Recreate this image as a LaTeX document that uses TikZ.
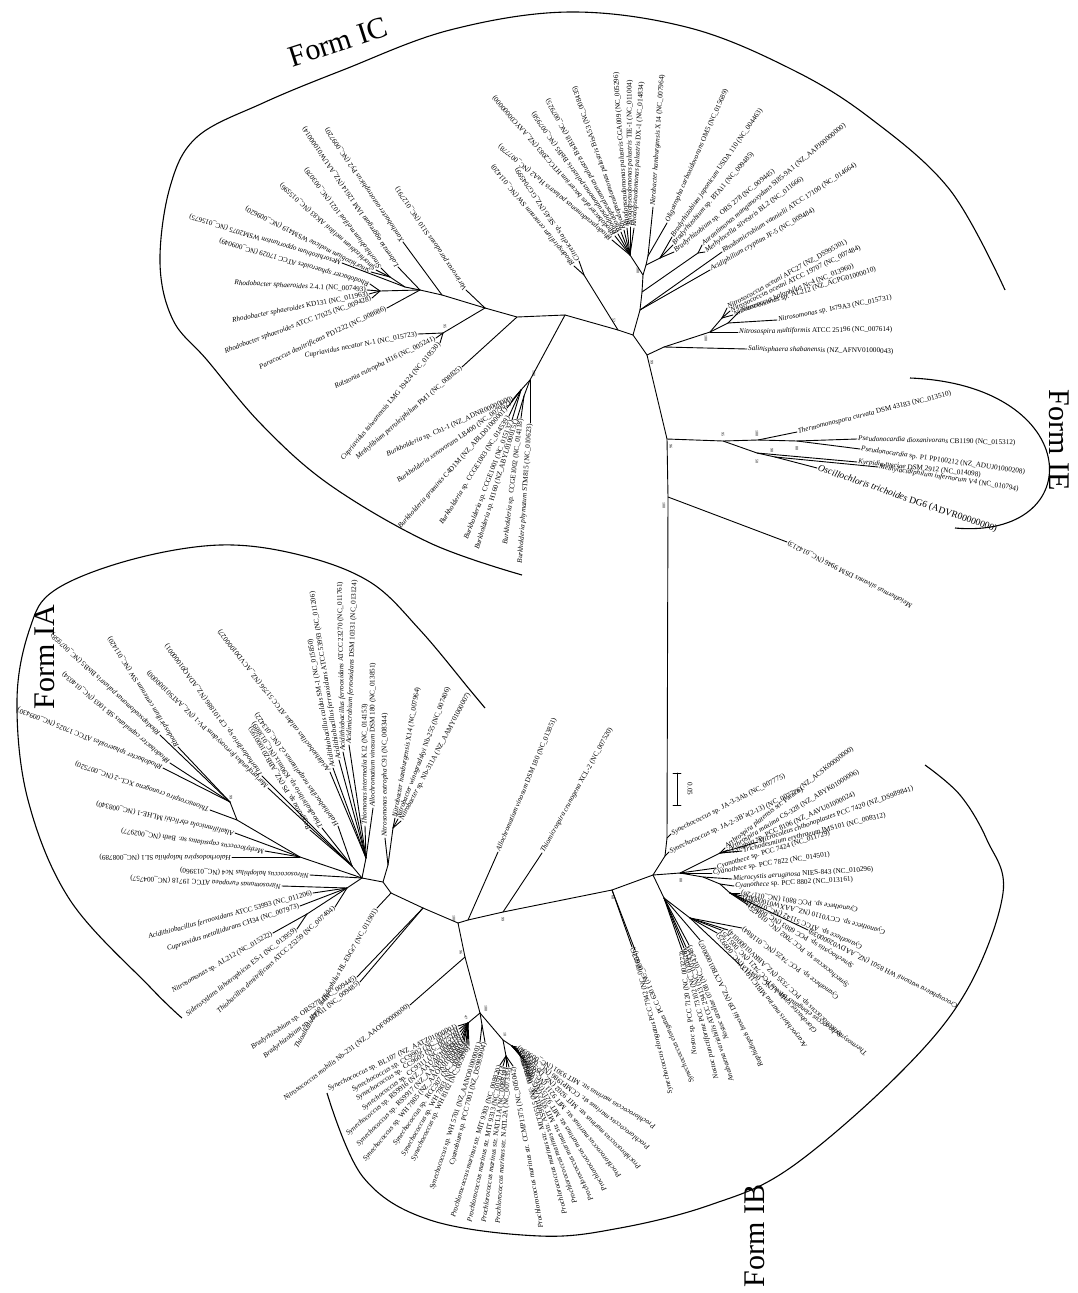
\documentclass[tikz,border=0pt]{standalone}
\usepackage{fontspec}
\setmainfont{Liberation Serif}
\usetikzlibrary{calc}
\tikzset{
  br/.style={line width=0.9pt, line cap=round},
  lbl/.style={font=\fontsize{7.2}{7.5}\selectfont, inner sep=1pt},
  lblbig/.style={font=\fontsize{9.5}{10}\selectfont, inner sep=1pt},
  bs/.style={font=\fontsize{4}{4}\selectfont, inner sep=0pt, rotate=-90},
  clade/.style={line width=1.1pt},
  formlbl/.style={font=\fontsize{30}{32}\selectfont, inner sep=0pt}
}
\newcommand{\gn}[1]{\textit{#1}}
\newcounter{tip}
% leaf, text reading away from the tip
\newcommand{\lfo}[4]{\stepcounter{tip}%
  \coordinate (t\thetip) at #2;
  \draw[br] (#1) -- (t\thetip);
  \node[lbl, anchor=west, rotate=#3] at (t\thetip) {#4};}
% leaf, text reading towards the tip
\newcommand{\lfi}[4]{\stepcounter{tip}%
  \coordinate (t\thetip) at #2;
  \draw[br] (#1) -- (t\thetip);
  \node[lbl, anchor=east, rotate=#3] at (t\thetip) {#4};}
\begin{document}
\begin{tikzpicture}[x=1pt, y=-1pt]
\useasboundingbox (0,0) rectangle (1077,1293);

% backbone
\coordinate (ic0) at (633,335);
\coordinate (ns0) at (647,355);
\coordinate (ie0) at (667,439);
\coordinate (me0) at (668,497);
\coordinate (jb) at (667,838);
\coordinate (ja2) at (665,856);
\coordinate (kb) at (653,875);
\coordinate (cy0) at (612,890);
\coordinate (cr0) at (503,912);
\coordinate (al0) at (468,920);
\coordinate (ia0) at (458,923);
\coordinate (ib1) at (465,957);
\coordinate (ib0) at (480,1013);
\draw[br] (ic0) -- (ns0) -- (ie0) -- (me0) -- (jb) -- (ja2) -- (kb) -- (cy0) -- (cr0) -- (al0) -- (ia0) -- (ib1) -- (ib0);

% Form IC
\coordinate (icb) at (618,330);
\coordinate (bk1) at (565,315);
\coordinate (mt1) at (517,317);
\coordinate (ic1) at (485,308);
\coordinate (rs0) at (584,275);
\coordinate (up1) at (640,310);
\coordinate (up2) at (642,292);
\coordinate (up3) at (643,275);
\coordinate (up4) at (646,265);
\coordinate (up5) at (648,256);
\coordinate (rp1) at (630,255);
\coordinate (brad0) at (660,258);
\coordinate (am0) at (698,253);
\draw[br] (ic0) -- (icb) -- (bk1) -- (mt1) -- (ic1);
\draw[br] (icb) -- (rs0);
\draw[br] (ic0) -- (up1) -- (up2) -- (up3) -- (up4) -- (up5);
\draw[br] (up3) -- (rp1);
\draw[br] (up4) -- (brad0);
\draw[br] (up2) -- (am0);

\lfo{rs0}{(574,266)}{129}{\gn{Rhodospirillum centenum} SW (NC\_011420)}
\lfo{rs0}{(579,261)}{124}{\gn{Citreicella} sp. SE45 (NZ\_GG704599)}
\lfo{rp1}{(612,240)}{140}{\gn{Rhodopseudomonas palustris} HaA2 (NC\_007778)}
\lfo{rp1}{(615,236)}{131}{\gn{Rhodobacterales bacterium} HTCC2083 (NZ\_AAYC00000000)}
\lfo{rp1}{(618,234)}{125}{\gn{Rhodopseudomonas palustris} BisB5 (NC\_007958)}
\lfo{rp1}{(621,232)}{119}{\gn{Rhodopseudomonas palustris} BisB18 (NC\_007925)}
\lfo{rp1}{(624,230)}{109}{\gn{Rhodopseudomonas palustris} BisA53 (NC\_008435)}
\lfo{rp1}{(627,228)}{94}{\gn{Rhodopseudomonas palustris} CGA009 (NC\_005296)}
\lfo{rp1}{(630,227)}{90}{\gn{Rhodopseudomonas palustris} TIE-1 (NC\_011004)}
\lfo{rp1}{(634,228)}{87}{\gn{Rhodopseudomonas palustris} DX-1 (NC\_014834)}
\lfo{up5}{(653,207)}{86}{\gn{Nitrobacter hamburgensis} X14 (NC\_007964)}
\lfo{up5}{(667,223)}{66}{\gn{Oligotropha carboxidovorans} OM5 (NC\_015689)}
\lfo{brad0}{(672,237)}{55}{\gn{Bradyrhizobium japonicum} USDA 110 (NC\_004463)}
\lfo{brad0}{(673,245)}{49}{\gn{Bradyrhizobium} sp. BTAi1 (NC\_009485)}
\lfo{brad0}{(674,252)}{39}{\gn{Bradyrhizobium} sp. ORS 278 (NC\_009445)}
\lfo{am0}{(702,245)}{40}{\gn{Aurantimonas manganoxydans} SI85-9A1 (NZ\_AAPJ00000000)}
\lfo{am0}{(705,252)}{37}{\gn{Methylocella silvestris} BL2 (NC\_011666)}
\lfo{up1}{(722,252)}{33}{\gn{Rhodomicrobium vannielii} ATCC 17100 (NC\_014664)}
\lfo{up1}{(710,270)}{30}{\gn{Acidiphilium cryptum} JF-5 (NC\_009484)}

\coordinate (ns1) at (664,347);
\coordinate (ns2) at (710,332);
\coordinate (ns3) at (728,323);
\coordinate (ns4) at (722,318);
\draw[br] (ns0) -- (ns1) -- (ns2) -- (ns3);
\draw[br] (ns2) -- (ns4);
\lfo{ns1}{(747,349)}{-1}{\gn{Salinisphaera shabanensis} (NZ\_AFNV01000043)}
\lfo{ns2}{(738,332)}{1}{\gn{Nitrosospira multiformis} ATCC 25196 (NC\_007614)}
\lfo{ns3}{(777,320)}{11}{\gn{Nitrosomonas} sp. Is79A3 (NC\_015731)}
\lfo{ns3}{(740,311)}{17}{\gn{Nitrosomonas} sp. AL212 (NZ\_ACPG01000010)}
\lfo{ns4}{(727,308)}{29}{\gn{Nitrosococcus oceani} AFC27 (NZ\_DS995301)}
\lfo{ns4}{(730,311)}{26}{\gn{Nitrosococcus oceani} ATCC 19707 (NC\_007484)}
\lfo{ns4}{(733,315)}{22}{\gn{Nitrosococcus halophilus} Nc4 (NC\_013960)}

\coordinate (ic2) at (442,295);
\coordinate (ic3) at (420,290);
\coordinate (ic4) at (405,287);
\coordinate (ic5) at (390,277);
\coordinate (rb0) at (380,291);
\coordinate (cn0) at (443,333);
\draw[br] (ic1) -- (ic2) -- (ic3) -- (rb0);
\draw[br] (ic3) -- (ic4) -- (ic5);
\draw[br] (ic1) -- (cn0);
\lfo{ic1}{(466,290)}{124}{\gn{Variovorax paradoxus} S110 (NC\_012791)}
\lfo{ic2}{(403,242)}{124}{\gn{Xanthobacter autotrophicus} Py2 (NC\_009720)}
\lfo{ic3}{(398,267)}{124}{\gn{Labrenzia aggregata} IAM 12614 (NZ\_AAUW01000014)}
\lfo{ic5}{(381,268)}{127}{\gn{Sinorhizobium meliloti} 1021 (NC\_003078)}
\lfo{ic5}{(376,270)}{138}{\gn{Sinorhizobium meliloti} AK83 (NC\_015596)}
\lfo{ic5}{(371,272)}{153}{\gn{Sinorhizobium medicae} WSM419 (NC\_009620)}
\lfo{ic4}{(342,263)}{163}{\gn{Mesorhizobium opportunism} WSM2075 (NC\_015675)}
\lfo{rb0}{(370,284)}{164}{\gn{Rhodobacter sphaeroides} ATCC 17029 (NC\_009049)}
\lfi{rb0}{(367,290)}{-3}{\gn{Rhodobacter sphaeroides} 2.4.1 (NC\_007493)}
\lfi{rb0}{(369,294)}{11}{\gn{Rhodobacter sphaeroides} KD131 (NC\_011963)}
\lfi{rb0}{(372,298)}{20}{\gn{Rhodobacter sphaeroides} ATCC 17025 (NC\_009428)}
\lfi{ic3}{(387,308)}{25}{\gn{Paracoccus denitrificans} PD1222 (NC\_008686)}
\lfi{cn0}{(418,334)}{11}{\gn{Cupriavidus necator} N-1 (NC\_015723)}
\lfi{cn0}{(436,338)}{26}{\gn{Ralstonia eutropha} H16 (NC\_005241)}
\lfi{cn0}{(440,343)}{50}{\gn{Cupriavidus taiwanensis} LMG 19424 (NC\_010530)}
\lfi{mt1}{(462,367)}{41}{\gn{Methylibium petroleiphilum} PM1 (NC\_008825)}

\coordinate (bk0) at (530,380);
\coordinate (bk2) at (521,390);
\coordinate (bk3) at (524,396);
\draw[br] (bk1) -- (bk0) -- (bk2);
\draw[br] (bk0) -- (bk3);
\lfi{bk2}{(514,398)}{24}{\gn{Burkholderia} sp. Ch1-1 (NZ\_ADNR00000000)}
\lfi{bk2}{(511,402)}{35}{\gn{Burkholderia xenovorans} LB400 (NC\_007952)}
\lfi{bk2}{(507,408)}{48}{\gn{Burkholderia graminis} C4D1M (NZ\_ABLD01000001)}
\lfi{bk2}{(509,416)}{58}{\gn{Burkholderia} sp. CCGE1003 (NC\_014539)}
\lfi{bk2}{(512,420)}{69}{\gn{Burkholderia} sp. CCGE1001 (NC\_015137)}
\lfi{bk3}{(517,419)}{73}{\gn{Burkholderia} sp. H160 (NZ\_ABYL01000151)}
\lfi{bk3}{(521,418)}{83}{\gn{Burkholderia} sp. CCGE1002 (NC\_014118)}
\lfi{bk0}{(530,423)}{86}{\gn{Burkholderia phymatum} STM815 (NC\_010623)}

% Form IE
\coordinate (ie1) at (723,441);
\coordinate (ie2) at (758,440);
\coordinate (ie3) at (797,441);
\coordinate (ie4) at (757,453);
\coordinate (ie5) at (775,457);
\draw[br] (ie0) -- (ie1) -- (ie2) -- (ie3);
\draw[br] (ie1) -- (ie4) -- (ie5);
\lfo{ie2}{(797,432)}{14}{\gn{Thermomonospora curvata} DSM 43183 (NC\_013510)}
\lfo{ie3}{(857,439)}{-1.5}{\gn{Pseudonocardia dioxanivorans} CB1190 (NC\_015312)}
\lfo{ie3}{(860,449)}{-8}{\gn{Pseudonocardia} sp. P1 PP100212 (NZ\_ADUJ01000208)}
\lfo{ie4}{(857,462)}{-6}{\gn{Kyrpidia tusciae} DSM 2912 (NC\_014098)}
\lfo{ie5}{(878,467)}{-9}{\gn{Methylacidiphilum infernorum} V4 (NC\_010794)}
\coordinate (osc) at (817,468);
\draw[br] (ie5) -- (osc);
\node[lblbig, anchor=west, rotate=-19] at (osc) {\gn{Oscillochloris trichoides} DG6 (ADVR00000000)};
\lfi{me0}{(787,542)}{153}{\gn{Meiothermus silvanus} DSM 9946 (NC\_014213)}

% Form IA
\coordinate (ia1) at (423,908);
\coordinate (ia2) at (391,893);
\coordinate (ia3) at (383,882);
\coordinate (ia4) at (388,865);
\coordinate (ia6) at (393,828);
\coordinate (ia5) at (362,878);
\coordinate (ia7) at (366,858);
\coordinate (ia8) at (347,888);
\coordinate (ia14) at (307,914);
\coordinate (iaf) at (352,866);
\coordinate (iag) at (300,857);
\coordinate (ia13) at (237,820);
\coordinate (ia15) at (230,802);
\draw[br] (ia0) -- (ia1) -- (ia2) -- (ia3) -- (ia5) -- (ia8) -- (ia14);
\draw[br] (ia3) -- (ia4) -- (ia6);
\draw[br] (ia5) -- (ia7);
\draw[br] (ia5) -- (iaf);
\draw[br] (ia5) -- (iag) -- (ia13) -- (ia15);
\lfi{ia1}{(357,977)}{34}{\gn{Bradyrhizobium} sp. ORS278 (NC\_009445)}
\lfi{ia1}{(360,982)}{38}{\gn{Bradyrhizobium} sp. BTAi1 (NC\_009485)}
\lfi{ia2}{(377,908)}{60}{\gn{Thioalkalivibrio sulfidophilus} HL-EbGr7 (NC\_011901)}
\lfo{ia8}{(282,886)}{177}{\gn{Nitrosomonas europaea} ATCC 19718 (NC\_004757)}
\lfi{ia8}{(313,893)}{15}{\gn{Acidithiobacillus ferrooxidans} ATCC 53993 (NC\_011206)}
\lfi{ia8}{(300,906)}{18}{\gn{Cupriavidus metallidurans} CH34 (NC\_007973)}
\lfi{ia8}{(335,907)}{42}{\gn{Thiobacillus denitrificans} ATCC 25259 (NC\_007404)}
\lfi{ia14}{(297,929)}{38}{\gn{Sideroxydans lithotrophicus} ES-1 (NC\_013959)}
\lfi{ia14}{(273,933)}{30}{\gn{Nitrosomonas} sp. AL212 (NC\_015222)}
\lfo{ia5}{(310,875)}{178}{\gn{Nitrosococcus halophilus} Nc4 (NC\_013960)}
\lfo{iag}{(232,857)}{180}{\gn{Halorhodospira halophila} SL1 (NC\_008789)}
\lfo{iag}{(265,851)}{172}{\gn{Methylococcus capsulatus} str. Bath (NC\_002977)}
\lfo{iag}{(235,833)}{168}{\gn{Alkalilimnicola ehrlichii} MLHE-1 (NC\_008340)}
\lfo{ia13}{(210,810)}{161}{\gn{Thiomicrospira crunogena} XCL-2 (NC\_007520)}
\lfo{ia15}{(160,735)}{137}{\gn{Rhodopseudomonas palustris} BisB5 (NC\_007958)}
\lfo{ia15}{(178,747)}{122}{\gn{Rhodospirillum centenum} SW (NC\_011420)}
\lfo{ia15}{(170,763)}{140}{\gn{Rhodobacter capsulatus} SB 1003 (NC\_014034)}
\lfo{ia15}{(163,768)}{158}{\gn{Rhodobacter sphaeroides} ATCC 17025 (NC\_009430)}
\lfo{iaf}{(268,788)}{136}{\gn{Mariprofundus ferrooxydans} PV-1 (NZ\_AATS01000000)}
\lfo{iaf}{(262,776)}{126}{\gn{Thiorhodovibrio} sp. CP 101886 (NZ\_ADAQ01000001)}
\lfo{iaf}{(310,830)}{120}{\gn{Beggiatoa} sp. PS (NZ\_ABBZ01000195)}
\lfo{iaf}{(322,828)}{123}{\gn{Thioalkalivibrio} sp. K90mix (NC\_013889)}
\lfo{iaf}{(338,826)}{126}{\gn{Halothiobacillus neapolitanus} c2 (NC\_013422)}
\lfo{ia7}{(330,772)}{128}{\gn{Acidithiobacillus caldus} ATCC 51756 (NZ\_ACVD01000027)}
\lfo{ia7}{(333,768)}{100}{\gn{Acidithiobacillus caldus} SM-1 (NC\_015850)}
\lfo{ia7}{(339,760)}{99}{\gn{Acidithiobacillus ferrooxidans} ATCC 53993 (NC\_011206)}
\lfo{ia7}{(343,752)}{91}{\gn{Acidithiobacillus ferrooxidans} ATCC 23270 (NC\_011761)}
\lfo{ia7}{(349,745)}{88}{\gn{Acidimicrobium ferrooxidans} DSM 10331 (NC\_013124)}
\lfo{ia7}{(365,826)}{90}{\gn{Thiomonas intermedia} K12 (NC\_014153)}
\lfo{ia7}{(373,808)}{90}{\gn{Allochromatium vinosum} DSM 180 (NC\_013851)}
\lfo{ia4}{(385,838)}{90}{\gn{Nitrosomonas eutropha} C91 (NC\_008344)}
\lfo{ia6}{(395,818)}{80}{\gn{Nitrobacter hamburgensis} X14 (NC\_007964)}
\lfo{ia6}{(398,819)}{69}{\gn{Nitrobacter winogradskyi} Nb-255 (NC\_007406)}
\lfo{ia6}{(401,821)}{62}{\gn{Nitrobacter} sp. Nb-311A (NZ\_AAMY01000007)}
\lfo{cr0}{(542,853)}{61}{\gn{Thiomicrospira crunogena} XCL-2 (NC\_007520)}
\lfo{al0}{(498,852)}{67}{\gn{Allochromatium vinosum} DSM 180 (NC\_013851)}
\lfi{ib1}{(410,1005)}{37}{\gn{Nitrosococcus mobilis} Nb-231 (NZ\_AAOF00000000)}

% Form IB
\coordinate (sy0) at (468,1023);
\coordinate (sy1) at (482,1025);
\coordinate (pr0) at (503,1040);
\coordinate (pr1) at (506,1056);
\coordinate (pr2) at (512,1046);
\draw[br] (ib0) -- (sy0);
\draw[br] (ib0) -- (sy1);
\draw[br] (ib0) -- (pr0) -- (pr1);
\draw[br] (pr0) -- (pr2);
\lfi{sy0}{(458,1026)}{26}{\gn{Synechococcus} sp. BL107 (NZ\_AATZ01000001)}
\lfi{sy0}{(459,1029)}{30}{\gn{Synechococcus} sp. CC9902 (NC\_007513)}
\lfi{sy0}{(460,1032)}{33}{\gn{Synechococcus} sp. CC9605 (NC\_007516)}
\lfi{sy0}{(461,1035)}{37}{\gn{Synechococcus} sp. CC9311 (NC\_008319)}
\lfi{sy0}{(462,1038)}{40}{\gn{Synechococcus} sp. RS9916 (NZ\_AAUA01000001)}
\lfi{sy0}{(463,1040)}{45}{\gn{Synechococcus} sp. RS9917 (NZ\_AANP01000001)}
\lfi{sy0}{(464,1042)}{50}{\gn{Synechococcus} sp. WH 7805 (NZ\_AAOK01000001)}
\lfi{sy0}{(466,1043)}{55}{\gn{Synechococcus} sp. RCC307 (NC\_009482)}
\lfi{sy0}{(467,1045)}{60}{\gn{Synechococcus} sp. WH 7803 (NC\_009481)}
\lfi{sy0}{(469,1046)}{64}{\gn{Synechococcus} sp. WH 8102 (NC\_005070)}
\lfi{sy1}{(480,1042)}{72}{\gn{Synechococcus} sp. WH 5701 (NZ\_AANO01000001)}
\lfi{sy1}{(485,1042)}{75}{\gn{Cyanobium} sp. PCC 7001 (NZ\_DS989904)}
\lfi{pr1}{(500,1065)}{73}{\gn{Prochlorococcus marinus} str. MIT 9303 (NC\_008820)}
\lfi{pr1}{(503,1066)}{78}{\gn{Prochlorococcus marinus} str. MIT 9313 (NC\_005071)}
\lfi{pr1}{(506,1067)}{82}{\gn{Prochlorococcus marinus} str. NATL1A (NC\_008819)}
\lfi{pr1}{(509,1067)}{86}{\gn{Prochlorococcus marinus} str. NATL2A (NC\_007335)}
\lfi{pr1}{(513,1066)}{100}{\gn{Prochlorococcus marinus} str. CCMP1375 (NC\_005042)}
\lfi{pr2}{(517,1047)}{150}{\gn{Prochlorococcus marinus} str. MIT 9301 (NC\_009091)}
\lfi{pr2}{(518,1049)}{143}{\gn{Prochlorococcus marinus} str. CCMP1986 (NC\_005072)}
\lfi{pr2}{(519,1051)}{136}{\gn{Prochlorococcus marinus} str. MIT 9202 (NZ\_DS999537)}
\lfi{pr2}{(520,1053)}{129}{\gn{Prochlorococcus marinus} str. MIT 9211 (NC\_009976)}
\lfi{pr2}{(521,1055)}{122}{\gn{Prochlorococcus marinus} str. MIT 9215 (NC\_009840)}
\lfi{pr2}{(522,1057)}{116}{\gn{Prochlorococcus marinus} str. MIT 9312 (NC\_007577)}
\lfi{pr2}{(523,1059)}{110}{\gn{Prochlorococcus marinus} str. AS9601 (NC\_008816)}
\lfi{pr2}{(524,1060)}{105}{\gn{Prochlorococcus marinus} str. MIT 9515 (NC\_008817)}
\lfi{cy0}{(632,947)}{114}{\gn{Synechococcus elongatus} PCC 6301 (NC\_006576)}
\lfi{cy0}{(635,950)}{104}{\gn{Synechococcus elongatus} PCC 7942 (NC\_007604)}
\lfo{jb}{(671,834)}{27}{\gn{Synechococcus} sp. JA-3-3Ab (NC\_007775)}
\lfo{ja2}{(669,852)}{25}{\gn{Synechococcus} sp. JA-2-3B'a(2-13) (NC\_007776)}

\coordinate (c1) at (680,873);
\coordinate (c2) at (720,853);
\coordinate (c3) at (703,877);
\coordinate (c4) at (720,884);
\coordinate (c5) at (730,893);
\coordinate (kf0) at (664,898);
\coordinate (kf1) at (690,918);
\draw[br] (kb) -- (c1) -- (c2);
\draw[br] (c1) -- (c3) -- (c4) -- (c5);
\draw[br] (kb) -- (kf0) -- (kf1);
\lfo{c2}{(725,848)}{38}{\gn{Arthrospira platensis} str. Paraca (NZ\_ACSK00000000)}
\lfo{c2}{(728,850)}{31}{\gn{Arthrospira maxima} CS-328 (NZ\_ABYK01000006)}
\lfo{c2}{(731,852)}{25}{\gn{Lyngbya} sp. PCC 8106 (NZ\_AAVU01000024)}
\lfo{c2}{(758,842)}{19}{\gn{Microcoleus chthonoplastes} PCC 7420 (NZ\_DS989841)}
\lfo{c2}{(742,851)}{14}{\gn{Trichodesmium erythraeum} IMS101 (NC\_008312)}
\lfo{c1}{(716,868)}{17}{\gn{Cyanothece} sp. PCC 7424 (NC\_011729)}
\lfo{c1}{(712,873)}{9}{\gn{Cyanothece} sp. PCC 7822 (NC\_014501)}
\lfo{c3}{(732,879)}{4}{\gn{Microcystis aeruginosa} NIES-843 (NC\_010296)}
\lfo{c4}{(734,886)}{3}{\gn{Cyanothece} sp. PCC 8802 (NC\_013161)}
\lfi{c5}{(740,893)}{172}{\gn{Cyanothece} sp. PCC 8801 (NC\_011726)}
\lfi{c5}{(742,896)}{166}{\gn{Cyanothece} sp. CCY0110 (NZ\_AAXW01000001)}
\lfi{c5}{(744,899)}{158}{\gn{Cyanothece} sp. ATCC 51142 (NC\_010546)}
\lfi{c5}{(746,902)}{149}{\gn{Synechocystis} sp. PCC 6803 (NC\_000911)}
\lfi{c5}{(748,905)}{141}{\gn{Synechococcus} sp. PCC 7002 (NC\_010475)}
\lfi{c5}{(808,930)}{153}{\gn{Crocosphaera watsonii} WH 8501 (NZ\_AADV02000039)}
\lfi{kf0}{(682,950)}{97}{\gn{Nostoc} sp. PCC 7120 (NC\_003272)}
\lfi{kf0}{(684,948)}{104}{\gn{Nostoc punctiforme} PCC 73102 (NC\_010628)}
\lfi{kf0}{(686,947)}{109}{\gn{Anabaena variabilis} ATCC 29413 (NC\_007413)}
\lfi{kf0}{(689,945)}{112}{\gn{Nostoc azollae} 0708 (NC\_014248)}
\lfi{kf0}{(700,940)}{116}{\gn{Raphidiopsis brookii} D9 (NZ\_ACYB01000007)}
\lfi{kf1}{(717,933)}{128}{\gn{Acaryochloris marina} MBIC11017 (NC\_009925)}
\lfi{kf1}{(721,930)}{133}{\gn{Gloeobacter violaceus} PCC 7421 (NC\_005125)}
\lfi{kf1}{(728,930)}{137}{\gn{Synechococcus} sp. PCC 7335 (NZ\_ABRV01000014)}
\lfi{kf1}{(740,965)}{145}{\gn{Thermosynechococcus elongatus} BP-1 (NC\_004113)}
\lfi{kf1}{(742,928)}{144}{\gn{Cyanothece} sp. PCC 7425 (NC\_011884)}

% bootstrap values
\node[bs] at (614,320) {52};
\node[bs] at (652,362) {99};
\node[bs] at (706,338) {100};
\node[bs] at (638,270) {100};
\node[bs] at (671,446) {96};
\node[bs] at (723,434) {95};
\node[bs] at (757,433) {100};
\node[bs] at (797,448) {88};
\node[bs] at (757,461) {50};
\node[bs] at (772,450) {98};
\node[bs] at (664,505) {100};
\node[bs] at (534,373) {100};
\node[bs] at (445,326) {95};
\node[bs] at (503,919) {99};
\node[bs] at (454,918) {100};
\node[bs] at (461,952) {96};
\node[bs] at (486,1008) {100};
\node[bs] at (466,1017) {47};
\node[bs] at (505,1034) {10};
\node[bs] at (613,897) {68};
\node[bs] at (681,880) {88};
\node[bs] at (231,797) {99};

% scale bar
\coordinate (sb1) at (677,773);
\coordinate (sb2) at (677,805);
\draw[br] (sb1) -- (sb2);
\draw[br] ([xshift=-4pt]sb1) -- ([xshift=4pt]sb1);
\draw[br] ([xshift=-4pt]sb2) -- ([xshift=4pt]sb2);
\node[lbl, rotate=-90] at (690,789) {0.05};

% clades
\draw[clade] plot[smooth, tension=0.6] coordinates {(522,575) (430,543) (330,485) (262,425) (207,360) (173,320) (160,263) (170,187) (197,137) (263,103) (343,70) (450,30) (570,12) (690,28) (793,70) (870,118) (950,190) (1005,290)};
\draw[clade] (910,378) .. controls (1085,385) and (1090,540) .. (955,528);
\draw[clade] plot[smooth, tension=0.6] coordinates {(485,708) (470,690) (420,630) (370,582) (300,555) (220,545) (130,560) (55,590) (30,628) (17,700) (28,800) (70,900) (150,987) (182,1018)};
\draw[clade] plot[smooth, tension=0.6] coordinates {(327,1093) (363,1177) (430,1220) (540,1236) (620,1228) (710,1205) (790,1168) (900,1073) (967,990) (1003,893) (987,840) (960,795) (925,765)};

\node[formlbl, rotate=18] at (338,42) {Form IC};
\node[formlbl, rotate=90] at (45,657) {Form IA};
\node[formlbl, rotate=90] at (755,1236) {Form IB};
\node[formlbl, rotate=-90] at (1059,440) {Form IE};
\end{tikzpicture}
\end{document}
